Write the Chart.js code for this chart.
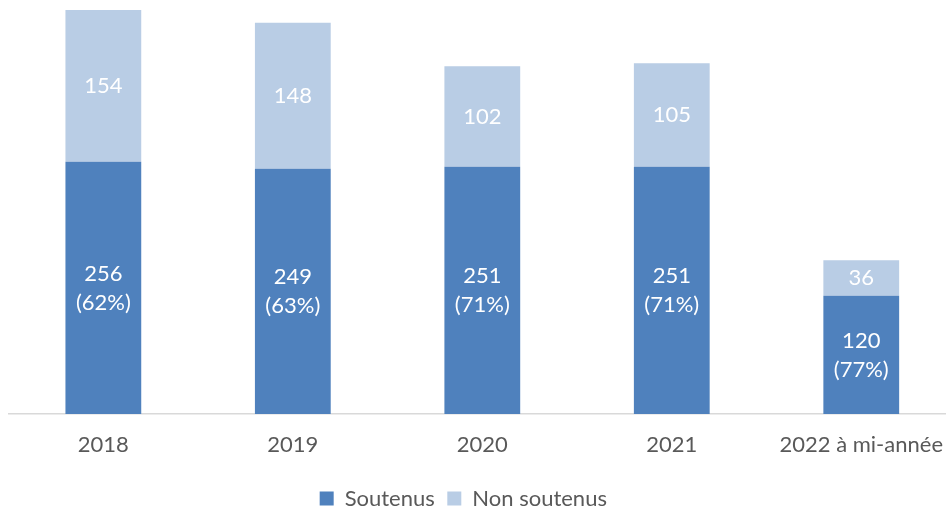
<!DOCTYPE html>
<html>
<head>
<meta charset="utf-8">
<script src="https://cdn.jsdelivr.net/npm/chart.js@4/dist/chart.umd.min.js"></script>
<style>
  html, body { margin: 0; padding: 0; background: #ffffff; overflow: hidden; }
  #wrap { position: absolute; left: 0; top: 0; width: 956px; height: 508px; }
</style>
</head>
<body>
<div id="wrap"><canvas id="chart" width="956" height="508"></canvas></div>
<script>
// Years shown on the horizontal axis
const categories = ['2018', '2019', '2020', '2021', '2022 à mi-année'];
// Counts per year
const soutenus = [256, 249, 251, 251, 120];
const nonSoutenus = [154, 148, 102, 105, 36];
const seriesNames = ['Soutenus', 'Non soutenus'];

const TEXT = '#595959';
const FONT = 'Lato, "Open Sans", sans-serif';

// Writes the value (and share of the yearly total for "Soutenus") inside each bar segment
const barLabels = {
  id: 'barLabels',
  afterDatasetsDraw(chart) {
    const ctx = chart.ctx;
    ctx.save();
    ctx.fillStyle = '#ffffff';
    ctx.font = '22px ' + FONT;
    ctx.textAlign = 'center';
    ctx.textBaseline = 'middle';
    chart.data.datasets.forEach((ds, di) => {
      const meta = chart.getDatasetMeta(di);
      meta.data.forEach((bar, i) => {
        const p = bar.getProps(['x', 'y', 'base'], true);
        const cy = (p.y + p.base) / 2;
        const v = ds.data[i];
        if (di === 0) {
          const total = soutenus[i] + nonSoutenus[i];
          const pct = Math.round(v / total * 100);
          ctx.fillText(String(v), p.x, cy - 14);
          ctx.fillText('(' + pct + '%)', p.x, cy + 15);
        } else {
          ctx.fillText(String(v), p.x, cy);
        }
      });
    });
    ctx.restore();
  }
};

// Moves the legend block horizontally so it sits under the middle of the visible page
const legendShift = {
  id: 'legendShift',
  afterLayout(chart) {
    const lg = chart.legend;
    if (!lg) return;
    const dx = -19;
    lg.left += dx;
    lg.right += dx;
  }
};

new Chart(document.getElementById('chart'), {
  type: 'bar',
  data: {
    labels: categories,
    datasets: [
      { label: seriesNames[0], data: soutenus, backgroundColor: '#4F81BD', borderWidth: 0 },
      { label: seriesNames[1], data: nonSoutenus, backgroundColor: '#B9CDE5', borderWidth: 0 }
    ]
  },
  options: {
    responsive: false,
    animation: false,
    devicePixelRatio: 1,
    categoryPercentage: 1,
    barPercentage: 0.4,
    layout: { padding: { left: 8.6, right: 0, top: 10, bottom: -11.5 } },
    scales: {
      x: {
        stacked: true,
        grid: { display: false, drawTicks: false },
        border: { display: true, color: '#D9D9D9', width: 1.5 },
        ticks: { color: TEXT, font: { family: FONT, size: 22, lineHeight: 1.86 }, padding: 10, maxRotation: 0, autoSkip: false }
      },
      y: {
        stacked: true,
        display: false,
        min: 0,
        max: 410
      }
    },
    plugins: {
      legend: {
        position: 'bottom',
        labels: {
          color: TEXT,
          font: { family: FONT, size: 22 },
          boxWidth: 14,
          boxHeight: 14,
          padding: 12.5
        }
      },
      tooltip: { enabled: false }
    }
  },
  plugins: [barLabels, legendShift]
});
</script>
</body>
</html>
